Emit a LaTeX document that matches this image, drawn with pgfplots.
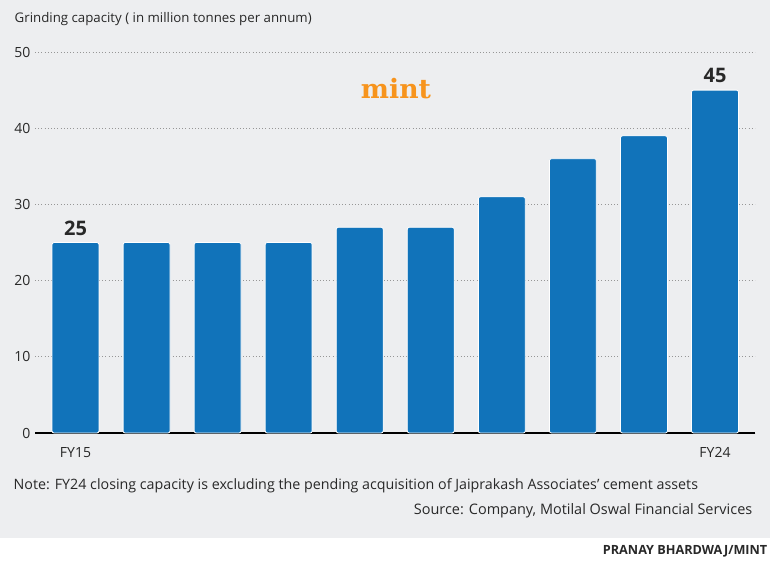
\documentclass[border=0pt]{standalone}
\usepackage{pgfplots}
\pgfplotsset{compat=1.18}
\usepackage{fontspec}
\setmainfont{Open Sans}
\newfontfamily\logofont{DejaVu Serif}
\definecolor{bg}{RGB}{237,238,240}
\definecolor{barblue}{RGB}{17,115,186}
\definecolor{mintorange}{RGB}{247,148,29}
\definecolor{gridgray}{RGB}{150,150,150}
\definecolor{txt}{RGB}{40,40,40}
\begin{document}
\begin{tikzpicture}[x=0.75pt,y=0.75pt]
\useasboundingbox (0,0) rectangle (770,564);
\fill[bg] (0,26) rectangle (770,564);
\begin{axis}[
  at={(26.25pt,98.25pt)}, anchor=south west, scale only axis,
  width=540pt, height=285.75pt,
  xmin=-0.57, xmax=9.563, ymin=0, ymax=50,
  ytick={0,10,...,50},
  xtick={0,9}, xticklabels={FY15,FY24},
  ymajorgrids, grid style={dotted, gridgray, line width=0.5pt},
  axis x line*=bottom, axis y line*=left,
  y axis line style={draw=none},
  x axis line style={black, line width=0.8pt},
  major tick length=0pt,
  tick label style={font=\fontsize{10.5}{12}\selectfont, text=txt},
  xticklabel style={yshift=-7pt},
  /pgf/number format/assume math mode=true,
  clip=false,
]
\addplot[ybar, bar shift=0pt, bar width=0.66, fill=barblue, draw=white, line width=0.6pt, rounded corners=1.5pt]
 coordinates {(0,25) (1,25) (2,25) (3,25) (4,27) (5,27) (6,31) (7,36) (8,39) (9,45)};
\addplot[ybar, bar shift=0pt, bar width=0.66, draw=none, fill=none,
  nodes near coords, point meta=explicit symbolic,
  every node near coord/.append style={font=\bfseries\fontsize{15}{17}\selectfont, text=txt, anchor=south, inner sep=0pt, yshift=5pt}]
 coordinates {(0,25) [25] (9,45) [45]};
\end{axis}
\node[anchor=west, font=\fontsize{9.95}{12}\selectfont, text=txt] at (10,545) {Grinding capacity ( in million tonnes per annum)};
\node[font=\logofont\bfseries\fontsize{20}{22}\selectfont, text=mintorange] at (396,475) {mint};
\node[anchor=west, font=\fontsize{10.7}{13}\selectfont, text=txt] at (9,78) {Note: FY24 closing capacity is excluding the pending acquisition of Jaiprakash Associates’ cement assets};
\node[anchor=east, font=\fontsize{10.85}{13}\selectfont, text=txt] at (757,53) {Source: Company, Motilal Oswal Financial Services};
\node[anchor=east, font=\bfseries\fontsize{9.5}{11}\selectfont, text=txt] at (772,13) {PRANAY BHARDWAJ/MINT};
\end{tikzpicture}
\end{document}
